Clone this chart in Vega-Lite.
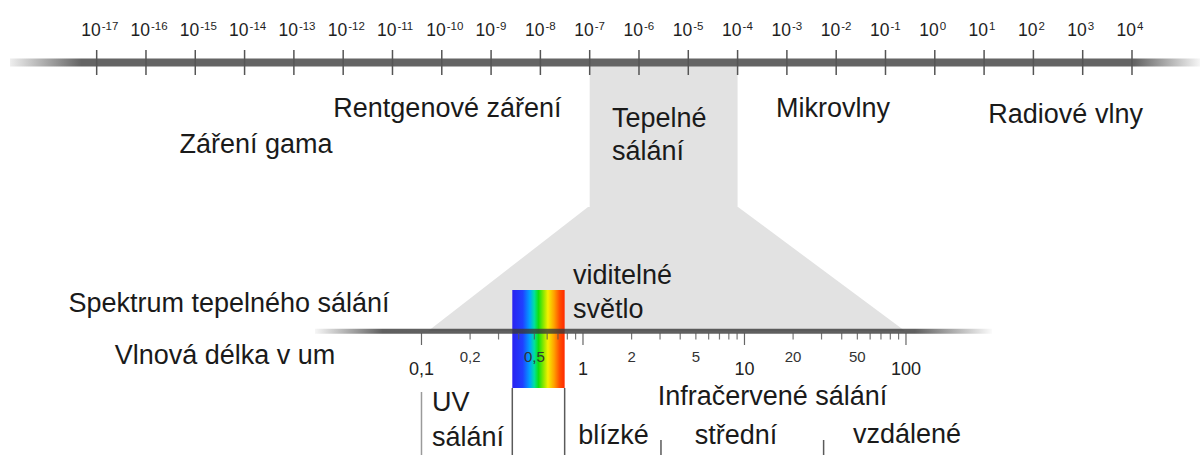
{
  "$schema": "https://vega.github.io/schema/vega-lite/v6.json",
  "width": 1202,
  "height": 455,
  "padding": 0,
  "autosize": {"type": "none"},
  "background": "white",
  "config": {"view": {"stroke": null}, "text": {"font": "Liberation Sans"}},
  "resolve": {"scale": {"x": "independent"}},
  "layer": [
    {
      "layer": [
        {
          "data": {"values": [{"from": 1e-7, "to": 1e-4}]},
          "mark": {"type": "rect", "color": "#e2e2e2"},
          "encoding": {
            "x": {"field": "from", "type": "quantitative", "axis": null, "scale": {"type": "log", "domain": [1.094e-19, 263000], "nice": false}},
            "x2": {"field": "to"},
            "y": {"datum": 62, "type": "quantitative", "axis": null, "scale": {"domain": [0, 455], "reverse": true, "nice": false, "zero": false}},
            "y2": {"datum": 208}
          }
        },
        {
          "data": {"values": [{"from": 1.75e-19, "to": 240000}]},
          "mark": {"type": "rect", "fill": {"gradient": "linear", "x1": 0, "y1": 0, "x2": 1, "y2": 0, "stops": [{"offset": 0, "color": "#eeeeee"}, {"offset": 0.06, "color": "#646464"}, {"offset": 0.945, "color": "#646464"}, {"offset": 1, "color": "#f6f6f6"}]}},
          "encoding": {
            "x": {"field": "from", "type": "quantitative", "axis": null, "scale": {"type": "log", "domain": [1.094e-19, 263000], "nice": false}},
            "x2": {"field": "to"},
            "y": {"datum": 58.5, "type": "quantitative", "axis": null, "scale": {"domain": [0, 455], "reverse": true, "nice": false, "zero": false}},
            "y2": {"datum": 66.5}
          }
        },
        {
          "data": {"name": "topTicks", "values": [
            {"m": 1e-17, "exp": "-17"}, {"m": 1e-16, "exp": "-16"}, {"m": 1e-15, "exp": "-15"},
            {"m": 1e-14, "exp": "-14"}, {"m": 1e-13, "exp": "-13"}, {"m": 1e-12, "exp": "-12"},
            {"m": 1e-11, "exp": "-11"}, {"m": 1e-10, "exp": "-10"}, {"m": 1e-9, "exp": "-9"},
            {"m": 1e-8, "exp": "-8"}, {"m": 1e-7, "exp": "-7"}, {"m": 1e-6, "exp": "-6"},
            {"m": 1e-5, "exp": "-5"}, {"m": 1e-4, "exp": "-4"}, {"m": 1e-3, "exp": "-3"},
            {"m": 0.01, "exp": "-2"}, {"m": 0.1, "exp": "-1"}, {"m": 1, "exp": "0"},
            {"m": 10, "exp": "1"}, {"m": 100, "exp": "2"}, {"m": 1000, "exp": "3"},
            {"m": 10000, "exp": "4"}
          ]},
          "layer": [
            {
              "mark": {"type": "rule", "color": "#555555", "strokeWidth": 1.5},
              "encoding": {
                "x": {"field": "m", "type": "quantitative", "axis": null, "scale": {"type": "log", "domain": [1.094e-19, 263000], "nice": false}},
                "y": {"datum": 50, "type": "quantitative", "axis": null, "scale": {"domain": [0, 455], "reverse": true, "nice": false, "zero": false}},
                "y2": {"datum": 75}
              }
            },
            {
              "mark": {"type": "text", "fontSize": 17.5, "align": "right", "dx": 4, "baseline": "alphabetic", "color": "#1e1e1e"},
              "encoding": {
                "x": {"field": "m", "type": "quantitative", "axis": null, "scale": {"type": "log", "domain": [1.094e-19, 263000], "nice": false}},
                "y": {"datum": 36, "type": "quantitative", "axis": null, "scale": {"domain": [0, 455], "reverse": true, "nice": false, "zero": false}},
                "text": {"value": "10"}
              }
            },
            {
              "mark": {"type": "text", "fontSize": 11.5, "align": "left", "dx": 5, "baseline": "alphabetic", "color": "#1e1e1e"},
              "encoding": {
                "x": {"field": "m", "type": "quantitative", "axis": null, "scale": {"type": "log", "domain": [1.094e-19, 263000], "nice": false}},
                "y": {"datum": 29.5, "type": "quantitative", "axis": null, "scale": {"domain": [0, 455], "reverse": true, "nice": false, "zero": false}},
                "text": {"field": "exp"}
              }
            }
          ]
        },
        {
          "data": {"values": [
            {"m": 1.7e-14, "lvl": 153, "name": "Záření gama"},
            {"m": 1.3e-10, "lvl": 117, "name": "Rentgenové záření"},
            {"m": 0.0086, "lvl": 117, "name": "Mikrovlny"},
            {"m": 450, "lvl": 123, "name": "Radiové vlny"}
          ]},
          "mark": {"type": "text", "fontSize": 27, "align": "center", "baseline": "alphabetic", "color": "#1a1a1a"},
          "encoding": {
            "x": {"field": "m", "type": "quantitative", "axis": null, "scale": {"type": "log", "domain": [1.094e-19, 263000], "nice": false}},
            "y": {"field": "lvl", "type": "quantitative", "axis": null, "scale": {"domain": [0, 455], "reverse": true, "nice": false, "zero": false}},
            "text": {"field": "name"}
          }
        },
        {
          "data": {"values": [
            {"m": 2.83e-7, "lvl": 127, "name": "Tepelné"},
            {"m": 2.83e-7, "lvl": 160, "name": "sálání"}
          ]},
          "mark": {"type": "text", "fontSize": 27, "align": "left", "baseline": "alphabetic", "color": "#1a1a1a"},
          "encoding": {
            "x": {"field": "m", "type": "quantitative", "axis": null, "scale": {"type": "log", "domain": [1.094e-19, 263000], "nice": false}},
            "y": {"field": "lvl", "type": "quantitative", "axis": null, "scale": {"domain": [0, 455], "reverse": true, "nice": false, "zero": false}},
            "text": {"field": "name"}
          }
        }
      ]
    },
    {
      "layer": [
        {
          "data": {"values": [{"lvl": 207, "lo": 1.074, "hi": 9.12}, {"lvl": 331, "lo": 0.11, "hi": 98.6}]},
          "mark": {"type": "area", "orient": "horizontal", "color": "#e2e2e2"},
          "encoding": {
            "x": {"field": "lo", "type": "quantitative", "stack": null, "axis": null, "scale": {"type": "log", "domain": [0.0002455, 6808], "nice": false}},
            "x2": {"field": "hi"},
            "y": {"field": "lvl", "type": "quantitative", "axis": null, "scale": {"domain": [0, 455], "reverse": true, "nice": false, "zero": false}}
          }
        },
        {
          "data": {"values": [{"from": 0.365, "to": 0.77}]},
          "mark": {"type": "rect", "fill": {"gradient": "linear", "x1": 0, "y1": 0, "x2": 1, "y2": 0, "stops": [
            {"offset": 0, "color": "#2a22f0"}, {"offset": 0.2, "color": "#2040ff"}, {"offset": 0.33, "color": "#00a0ff"},
            {"offset": 0.42, "color": "#00e0a0"}, {"offset": 0.5, "color": "#10e010"}, {"offset": 0.6, "color": "#90e800"},
            {"offset": 0.68, "color": "#f4f000"}, {"offset": 0.8, "color": "#ffa000"}, {"offset": 0.9, "color": "#ff5000"},
            {"offset": 1, "color": "#ff2a00"}]}},
          "encoding": {
            "x": {"field": "from", "type": "quantitative", "axis": null, "scale": {"type": "log", "domain": [0.0002455, 6808], "nice": false}},
            "x2": {"field": "to"},
            "y": {"datum": 290, "type": "quantitative", "axis": null, "scale": {"domain": [0, 455], "reverse": true, "nice": false, "zero": false}},
            "y2": {"datum": 388}
          }
        },
        {
          "data": {"values": [{"from": 0.0219, "to": 341}]},
          "mark": {"type": "rect", "opacity": 0.8, "fill": {"gradient": "linear", "x1": 0, "y1": 0, "x2": 1, "y2": 0, "stops": [{"offset": 0, "color": "#f4f4f4"}, {"offset": 0.1, "color": "#383838"}, {"offset": 0.886, "color": "#383838"}, {"offset": 1, "color": "#fafafa"}]}},
          "encoding": {
            "x": {"field": "from", "type": "quantitative", "axis": null, "scale": {"type": "log", "domain": [0.0002455, 6808], "nice": false}},
            "x2": {"field": "to"},
            "y": {"datum": 328.8, "type": "quantitative", "axis": null, "scale": {"domain": [0, 455], "reverse": true, "nice": false, "zero": false}},
            "y2": {"datum": 333.8}
          }
        },
        {
          "data": {"values": [{"um": 0.1}, {"um": 1}, {"um": 10}, {"um": 100}]},
          "mark": {"type": "rule", "color": "#555555", "strokeWidth": 1.2, "opacity": 0.9},
          "encoding": {
            "x": {"field": "um", "type": "quantitative", "axis": null, "scale": {"type": "log", "domain": [0.0002455, 6808], "nice": false}},
            "y": {"datum": 333, "type": "quantitative", "axis": null, "scale": {"domain": [0, 455], "reverse": true, "nice": false, "zero": false}},
            "y2": {"datum": 345}
          }
        },
        {
          "data": {"values": [
            {"um": 0.2}, {"um": 0.3}, {"um": 0.4}, {"um": 0.5}, {"um": 0.6}, {"um": 0.7}, {"um": 0.8}, {"um": 0.9},
            {"um": 2}, {"um": 3}, {"um": 4}, {"um": 5}, {"um": 6}, {"um": 7}, {"um": 8}, {"um": 9},
            {"um": 20}, {"um": 30}, {"um": 40}, {"um": 50}, {"um": 60}, {"um": 70}, {"um": 80}, {"um": 90}
          ]},
          "mark": {"type": "rule", "color": "#555555", "strokeWidth": 1.2, "opacity": 0.8},
          "encoding": {
            "x": {"field": "um", "type": "quantitative", "axis": null, "scale": {"type": "log", "domain": [0.0002455, 6808], "nice": false}},
            "y": {"datum": 333, "type": "quantitative", "axis": null, "scale": {"domain": [0, 455], "reverse": true, "nice": false, "zero": false}},
            "y2": {"datum": 339.5}
          }
        },
        {
          "data": {"values": [{"um": 0.1, "t": "0,1"}, {"um": 1, "t": "1"}, {"um": 10, "t": "10"}, {"um": 100, "t": "100"}]},
          "mark": {"type": "text", "fontSize": 18, "align": "center", "baseline": "alphabetic", "color": "#222222"},
          "encoding": {
            "x": {"field": "um", "type": "quantitative", "axis": null, "scale": {"type": "log", "domain": [0.0002455, 6808], "nice": false}},
            "y": {"datum": 375, "type": "quantitative", "axis": null, "scale": {"domain": [0, 455], "reverse": true, "nice": false, "zero": false}},
            "text": {"field": "t"}
          }
        },
        {
          "data": {"values": [{"um": 0.2, "t": "0,2"}, {"um": 0.5, "t": "0,5"}, {"um": 2, "t": "2"}, {"um": 5, "t": "5"}, {"um": 20, "t": "20"}, {"um": 50, "t": "50"}]},
          "mark": {"type": "text", "fontSize": 15, "align": "center", "baseline": "alphabetic", "color": "#333333"},
          "encoding": {
            "x": {"field": "um", "type": "quantitative", "axis": null, "scale": {"type": "log", "domain": [0.0002455, 6808], "nice": false}},
            "y": {"datum": 362, "type": "quantitative", "axis": null, "scale": {"domain": [0, 455], "reverse": true, "nice": false, "zero": false}},
            "text": {"field": "t"}
          }
        },
        {
          "data": {"values": [{"um": 0.1, "top": 392}]},
          "mark": {"type": "rule", "color": "#9a9a9a", "strokeWidth": 1.5},
          "encoding": {
            "x": {"field": "um", "type": "quantitative", "axis": null, "scale": {"type": "log", "domain": [0.0002455, 6808], "nice": false}},
            "y": {"field": "top", "type": "quantitative", "axis": null, "scale": {"domain": [0, 455], "reverse": true, "nice": false, "zero": false}},
            "y2": {"datum": 455}
          }
        },
        {
          "data": {"values": [{"um": 0.365, "top": 388}, {"um": 0.77, "top": 388}, {"um": 3.04, "top": 440}, {"um": 30.9, "top": 440}]},
          "mark": {"type": "rule", "color": "#5a5a5a", "strokeWidth": 1.5},
          "encoding": {
            "x": {"field": "um", "type": "quantitative", "axis": null, "scale": {"type": "log", "domain": [0.0002455, 6808], "nice": false}},
            "y": {"field": "top", "type": "quantitative", "axis": null, "scale": {"domain": [0, 455], "reverse": true, "nice": false, "zero": false}},
            "y2": {"datum": 455}
          }
        },
        {
          "data": {"values": [
            {"um": 0.00643, "lvl": 312, "name": "Spektrum tepelného sálání"},
            {"um": 0.00607, "lvl": 364, "name": "Vlnová délka v um"},
            {"um": 14.9, "lvl": 405, "name": "Infračervené sálání"},
            {"um": 1.545, "lvl": 444, "name": "blízké"},
            {"um": 8.85, "lvl": 444, "name": "střední"},
            {"um": 101.4, "lvl": 443, "name": "vzdálené"}
          ]},
          "mark": {"type": "text", "fontSize": 27, "align": "center", "baseline": "alphabetic", "color": "#1a1a1a"},
          "encoding": {
            "x": {"field": "um", "type": "quantitative", "axis": null, "scale": {"type": "log", "domain": [0.0002455, 6808], "nice": false}},
            "y": {"field": "lvl", "type": "quantitative", "axis": null, "scale": {"domain": [0, 455], "reverse": true, "nice": false, "zero": false}},
            "text": {"field": "name"}
          }
        },
        {
          "data": {"values": [
            {"um": 0.867, "lvl": 284, "name": "viditelné"},
            {"um": 0.867, "lvl": 318, "name": "světlo"},
            {"um": 0.116, "lvl": 411, "name": "UV"},
            {"um": 0.116, "lvl": 446, "name": "sálání"}
          ]},
          "mark": {"type": "text", "fontSize": 27, "align": "left", "baseline": "alphabetic", "color": "#1a1a1a"},
          "encoding": {
            "x": {"field": "um", "type": "quantitative", "axis": null, "scale": {"type": "log", "domain": [0.0002455, 6808], "nice": false}},
            "y": {"field": "lvl", "type": "quantitative", "axis": null, "scale": {"domain": [0, 455], "reverse": true, "nice": false, "zero": false}},
            "text": {"field": "name"}
          }
        }
      ]
    }
  ]
}
